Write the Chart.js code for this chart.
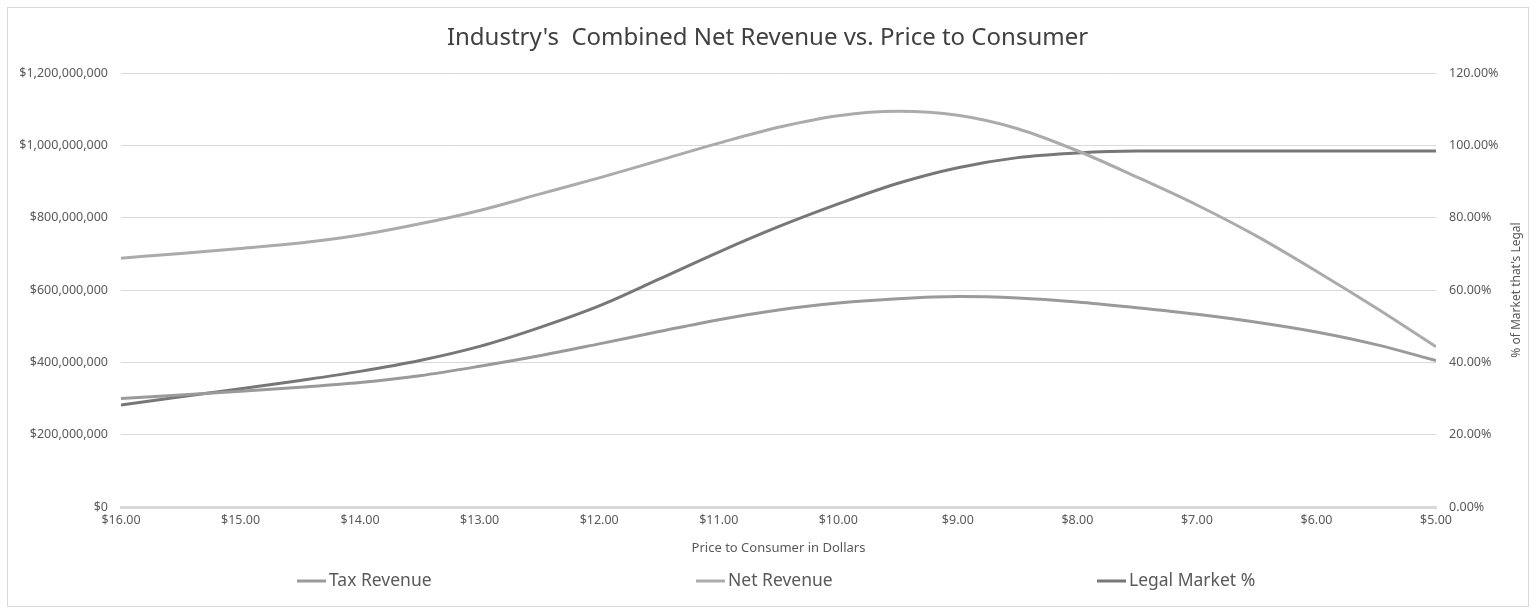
<!DOCTYPE html>
<html>
<head>
<meta charset="utf-8">
<title>Industry's Combined Net Revenue vs. Price to Consumer</title>
<script src="https://cdn.jsdelivr.net/npm/chart.js@4.4.1/dist/chart.umd.min.js"></script>
<style>
  html, body { margin: 0; padding: 0; background: #fff; }
  #wrap { position: relative; width: 1535px; height: 613px; }
</style>
</head>
<body>
<div id="wrap"><canvas id="chart" width="1535" height="613"></canvas></div>
<script>
// price to consumer, dollars (axis runs high to low)
const prices = [16, 15.5, 15, 14.5, 14, 13.5, 13, 12.5, 12, 11.5, 11, 10.5, 10, 9.5, 9, 8.5, 8, 7.5, 7, 6.5, 6, 5.5, 5];

// revenue in millions of dollars
const taxRevenue = [300, 310, 320, 331, 344, 363, 389, 418, 451, 485, 518, 545, 564, 576, 582, 578, 567, 551, 533, 511, 484, 449, 405];
const netRevenue = [688, 701, 715, 730, 752, 783, 820, 865, 910, 958, 1006, 1050, 1082, 1094, 1083, 1046, 985, 912, 835, 749, 652, 550, 443];

// share of the market that is legal, percent
const legalMarket = [28.2, 30.5, 32.7, 35.0, 37.5, 40.5, 44.4, 49.6, 55.6, 63.0, 70.5, 77.5, 83.8, 89.5, 93.8, 96.6, 97.9, 98.4, 98.4, 98.4, 98.4, 98.4, 98.4];

const seriesNames = ['Tax Revenue', 'Net Revenue', 'Legal Market %'];
const seriesColors = ['#9a9a9a', '#ababab', '#777777'];

const priceTicks = [16, 15, 14, 13, 12, 11, 10, 9, 8, 7, 6, 5];
const revenueTicks = [0, 200, 400, 600, 800, 1000, 1200];
const shareTicks = [0, 20, 40, 60, 80, 100, 120];

const FONT = '"Noto Sans", "Open Sans", sans-serif';
const TEXT = '#595959';

function points(values, scale) {
  return prices.map((p, i) => ({ x: p, y: values[i] * scale }));
}

// outer frame of the chart
const framePlugin = {
  id: 'frame',
  beforeDraw(chart) {
    const ctx = chart.ctx;
    ctx.save();
    ctx.strokeStyle = '#d9d9d9';
    ctx.lineWidth = 1;
    ctx.strokeRect(7.5, 7.5, 1521, 599);
    ctx.restore();
  }
};

// right axis title (reads bottom to top) and the legend row
const extrasPlugin = {
  id: 'extras',
  afterDraw(chart, args, opts) {
    const ctx = chart.ctx;
    ctx.save();
    ctx.fillStyle = TEXT;
    ctx.font = '12px ' + FONT;
    ctx.textAlign = 'center';
    ctx.textBaseline = 'middle';
    ctx.translate(opts.axisTitleX, (chart.chartArea.top + chart.chartArea.bottom) / 2);
    ctx.rotate(-Math.PI / 2);
    ctx.fillText("% of Market that's Legal", 0, 0);
    ctx.restore();

    ctx.save();
    ctx.font = '17.5px ' + FONT;
    ctx.textBaseline = 'middle';
    ctx.textAlign = 'left';
    chart.data.datasets.forEach((ds, i) => {
      const x = opts.legendX[i];
      const y = opts.legendY;
      ctx.strokeStyle = ds.borderColor;
      ctx.lineWidth = 3;
      ctx.beginPath();
      ctx.moveTo(x, y);
      ctx.lineTo(x + 29, y);
      ctx.stroke();
      ctx.fillStyle = TEXT;
      ctx.fillText(ds.label, x + 32, y);
    });
    ctx.restore();
  }
};

const tickFont = { family: FONT, size: 12.5 };

const ctx = document.getElementById('chart').getContext('2d');
new Chart(ctx, {
  type: 'line',
  data: {
    datasets: [
      { label: seriesNames[0], data: points(taxRevenue, 1e6), yAxisID: 'y', borderColor: seriesColors[0] },
      { label: seriesNames[1], data: points(netRevenue, 1e6), yAxisID: 'y', borderColor: seriesColors[1] },
      { label: seriesNames[2], data: points(legalMarket, 1), yAxisID: 'y1', borderColor: seriesColors[2] }
    ]
  },
  options: {
    responsive: false,
    animation: false,
    devicePixelRatio: 1,
    datasets: {
      line: {
        borderWidth: 3,
        pointRadius: 0,
        fill: false,
        cubicInterpolationMode: 'monotone'
      }
    },
    layout: { padding: 0 },
    scales: {
      x: {
        type: 'linear',
        reverse: true,
        min: 5,
        max: 16,
        afterBuildTicks: s => { s.ticks = priceTicks.map(v => ({ value: v })); },
        afterFit: s => { s.height = 106; },
        grid: { display: false, drawTicks: false },
        border: { display: true, color: '#d9d9d9', width: 3, dash: [9.5, 2] },
        ticks: {
          padding: 6,
          color: TEXT,
          font: tickFont,
          maxRotation: 0,
          callback: v => '$' + Number(v).toFixed(2)
        },
        title: {
          display: true,
          text: 'Price to Consumer in Dollars',
          color: TEXT,
          font: { family: FONT, size: 13 },
          padding: { top: 0, bottom: 57 }
        }
      },
      y: {
        position: 'left',
        min: 0,
        max: 1.2e9,
        afterBuildTicks: s => { s.ticks = revenueTicks.map(v => ({ value: v * 1e6 })); },
        afterFit: s => { s.width = 121; },
        grid: { color: '#d9d9d9', lineWidth: 1, drawTicks: false },
        border: { display: false },
        ticks: {
          padding: 13,
          color: TEXT,
          font: tickFont,
          callback: v => '$' + Number(v).toLocaleString('en-US')
        }
      },
      y1: {
        position: 'right',
        min: 0,
        max: 120,
        afterBuildTicks: s => { s.ticks = shareTicks.map(v => ({ value: v })); },
        afterFit: s => { s.width = 99; },
        grid: { display: false, drawTicks: false },
        border: { display: false },
        ticks: {
          padding: 13,
          color: TEXT,
          font: tickFont,
          callback: v => Number(v).toFixed(2) + '%'
        }
      }
    },
    plugins: {
      legend: { display: false },
      tooltip: { enabled: false },
      title: {
        display: true,
        text: "Industry's  Combined Net Revenue vs. Price to Consumer",
        color: '#404040',
        font: { family: FONT, size: 24, weight: 'normal' },
        padding: { top: 23.6, bottom: 20.6 }
      },
      extras: {
        axisTitleX: 1517,
        legendX: [297, 696, 1097],
        legendY: 581
      }
    }
  },
  plugins: [framePlugin, extrasPlugin]
});
</script>
</body>
</html>
